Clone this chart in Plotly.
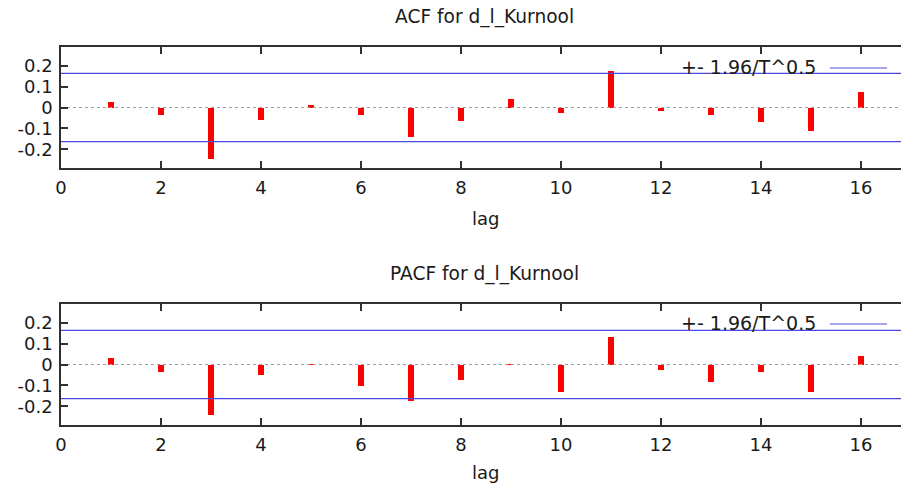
import plotly.graph_objects as go

lags = list(range(1, 17))
acf = [0.027, -0.037, -0.245, -0.058, 0.014, -0.035, -0.141, -0.066,
       0.043, -0.026, 0.175, -0.016, -0.034, -0.069, -0.112, 0.072]
pacf = [0.029, -0.038, -0.242, -0.048, -0.002, -0.103, -0.176, -0.074,
        0.002, -0.132, 0.130, -0.024, -0.085, -0.037, -0.132, 0.041]
bound = 0.164
titles = ["ACF for d_l_Kurnool", "PACF for d_l_Kurnool"]
legend_text = "+- 1.96/T^0.5"
xticks = [0, 2, 4, 6, 8, 10, 12, 14, 16]
yticks = [-0.2, -0.1, 0, 0.1, 0.2]
ytick_labels = ["-0.2", "-0.1", "0", "0.1", "0.2"]

W, H = 901, 489
FONT = "DejaVu Sans"
TXT = "#1a1a1a"
x_left = 61 / W
panels = [
    dict(top=47, bottom=168, vals=acf, xa="x", ya="y", title_y=17, lag_y=218, leg_y=67),
    dict(top=304, bottom=425, vals=pacf, xa="x2", ya="y2", title_y=274, lag_y=472, leg_y=323),
]

fig = go.Figure()
shapes = []
annotations = []
for i, p in enumerate(panels):
    fig.add_trace(go.Scatter(x=[0, 17], y=[0, 0], mode="lines",
                             line=dict(color="#a0a0a0", width=1, dash="dot"),
                             xaxis=p["xa"], yaxis=p["ya"], showlegend=False, hoverinfo="skip"))
    fig.add_trace(go.Bar(x=lags, y=p["vals"], width=0.12, marker=dict(color="#ff0000", line=dict(width=0)),
                         xaxis=p["xa"], yaxis=p["ya"], showlegend=False))
    for b in (bound, -bound):
        fig.add_trace(go.Scatter(x=[0, 17], y=[b, b], mode="lines",
                                 line=dict(color="#4a4ae0", width=1.2),
                                 xaxis=p["xa"], yaxis=p["ya"], showlegend=False, hoverinfo="skip"))
    annotations.append(dict(text=titles[i], x=484 / W, y=1 - p["title_y"] / H, xref="paper", yref="paper",
                            showarrow=False, xanchor="center", yanchor="middle",
                            font=dict(family=FONT, size=18.6, color=TXT)))
    annotations.append(dict(text="lag", x=485 / W, y=1 - p["lag_y"] / H, xref="paper", yref="paper",
                            showarrow=False, xanchor="center", yanchor="middle",
                            font=dict(family=FONT, size=18, color=TXT)))
    annotations.append(dict(text=legend_text, x=818 / W, y=1 - p["leg_y"] / H, xref="paper", yref="paper",
                            showarrow=False, xanchor="right", yanchor="middle",
                            font=dict(family=FONT, size=19, color=TXT)))
    shapes.append(dict(type="line", xref="paper", yref="paper", x0=830 / W, x1=887 / W,
                       y0=1 - (p["leg_y"] + 1) / H, y1=1 - (p["leg_y"] + 1) / H,
                       line=dict(color="#4a4ae0", width=1.2)))

axis_common_x = dict(range=[0, 16.8], tickvals=xticks, ticks="inside", ticklen=7, tickwidth=1.5,
                     tickcolor="#303030", showline=True, linecolor="#303030", linewidth=1.6,
                     mirror="allticks", showgrid=False, zeroline=False, automargin=False,
                     ticklabelstandoff=3,
                     tickfont=dict(family=FONT, size=18, color=TXT), domain=[x_left, 1])
axis_common_y = dict(range=[-0.29, 0.29], tickvals=yticks, ticktext=ytick_labels, ticks="inside",
                     ticklen=7, tickwidth=1.5, tickcolor="#303030", showline=True, linecolor="#303030",
                     linewidth=1.6, showgrid=False, zeroline=False, automargin=False,
                     ticklabelstandoff=3,
                     tickfont=dict(family=FONT, size=18, color=TXT))

fig.update_layout(
    width=W, height=H, margin=dict(l=0, r=0, t=0, b=0, autoexpand=False),
    paper_bgcolor="white", plot_bgcolor="white", showlegend=False,
    xaxis=dict(**axis_common_x, anchor="y"),
    yaxis=dict(**axis_common_y, anchor="x",
               domain=[1 - panels[0]["bottom"] / H, 1 - panels[0]["top"] / H]),
    xaxis2=dict(**axis_common_x, anchor="y2"),
    yaxis2=dict(**axis_common_y, anchor="x2",
                domain=[1 - panels[1]["bottom"] / H, 1 - panels[1]["top"] / H]),
    shapes=shapes, annotations=annotations, bargap=0,
)

fig.write_html("out.html", config={"displayModeBar": False},
               post_script="document.body.style.margin='0px';")
